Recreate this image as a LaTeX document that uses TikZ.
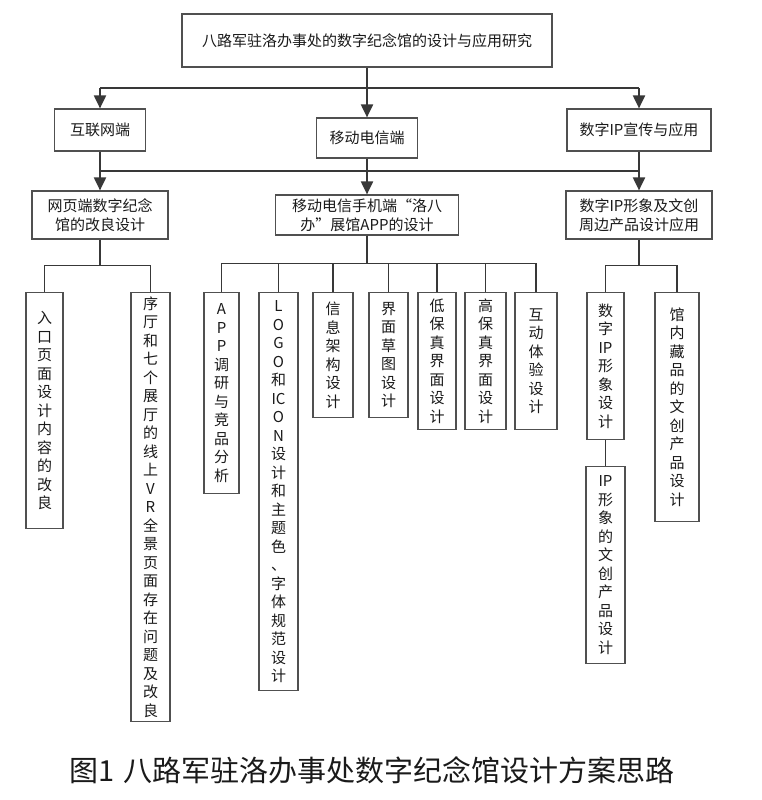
\documentclass[tikz,border=0pt]{standalone}
\usepackage{fontspec}
\setmainfont{Noto Sans CJK SC}
\usetikzlibrary{arrows.meta}
\definecolor{boxline}{HTML}{505050}
\definecolor{barline}{HTML}{383838}
\definecolor{inktext}{HTML}{1A1A1A}
\tikzset{%
  every box/.style={
    rectangle,
    draw=boxline,
    line width=1.2pt,
    inner sep=0pt,
    align=center,
    text=inktext,
    font=\fontsize{15}{19}\selectfont
  },
  column box/.style={
    every box,
    anchor=north,
    font=\fontsize{15}{18.5}\selectfont
  },
  link/.style={
    draw=barline,
    line width=2pt
  },
  thin link/.style={
    draw=barline,
    line width=1.4pt
  },
}

\begin{document}
\begin{tikzpicture}[x=1pt, y=-1pt, >={Triangle[length=13pt,width=12pt]}]

            \useasboundingbox[fill=white] (0,0) rectangle (761,800);

            % Title box
            \node [every box, minimum width=370pt, minimum height=53pt] (root) at (367,40.5)
              {八路军驻洛办事处的数字纪念馆的设计与应用研究};

            % First level
            \node [every box, minimum width=91pt, minimum height=42pt] (branch-1) at (100,130) {互联网端};
            \node [every box, minimum width=101pt, minimum height=40pt] (branch-2) at (367,138) {移动电信端};
            \node [every box, minimum width=144pt, minimum height=42pt] (branch-3) at (639,130) {数字IP宣传与应用};

            % Second level
            \node [every box, minimum width=136pt, minimum height=48pt] (design-1) at (100,215)
              {网页端数字纪念\\馆的改良设计};
            \node [every box, minimum width=183pt, minimum height=40pt] (design-2) at (367,215)
              {移动电信手机端“洛八\\办”展馆APP的设计};
            \node [every box, minimum width=146pt, minimum height=48pt] (design-3) at (639,215)
              {数字IP形象及文创\\周边产品设计应用};

            % Bar below the title
            \coordinate (bar-top) at (367,88);
            \draw [link] (branch-1.north |- bar-top) -- (branch-3.north |- bar-top);
            \draw [link, ->] (root) -- (branch-2);
            \foreach \b in {1,3}
              \draw [link, ->] (branch-\b.north |- bar-top) -- (branch-\b);

            % Bar between first and second level
            \coordinate (bar-mid) at (367,171);
            \draw [link] (branch-1.south |- bar-mid) -- (branch-3.south |- bar-mid);
            \foreach \b in {1,2,3}
              \draw [link, ->] (branch-\b) -- (design-\b);

            % Columns under the web design
            \node [column box, minimum width=37pt, minimum height=236pt] (web-1) at (44.5,292)
              {入\\口\\页\\面\\设\\计\\内\\容\\的\\改\\良};
            \node [column box, minimum width=39pt, minimum height=429pt] (web-2) at (150.5,292)
              {序\\厅\\和\\七\\个\\展\\厅\\的\\线\\上\\V\\R\\全\\景\\页\\面\\存\\在\\问\\题\\及\\改\\良};
            \foreach \m in {1,2}
              \draw [thin link] (design-1.south) -- ++(0,26) -| (web-\m.north);

            % Columns under the app design
            \foreach \m/\x/\w/\h/\t in {
                1/221.5/35/201/{A\\P\\P\\调\\研\\与\\竞\\品\\分\\析},
                2/278.5/39/398/{L\\O\\G\\O\\和\\IC\\O\\N\\设\\计\\和\\主\\题\\色\\、\\字\\体\\规\\范\\设\\计},
                3/333/40/125/{信\\息\\架\\构\\设\\计},
                4/388.5/39/125/{界\\面\\草\\图\\设\\计},
                5/437/38/137/{低\\保\\真\\界\\面\\设\\计},
                6/485.5/41/137/{高\\保\\真\\界\\面\\设\\计},
                7/536/42/137/{互\\动\\体\\验\\设\\计}}
              \node [column box, minimum width=\w, minimum height=\h] (app-\m) at (\x,292) {\t};
            \foreach \m in {1,...,7}
              \draw [thin link] (design-2.south) -- ++(0,28) -| (app-\m.north);

            % Columns under the IP design
            \node [column box, minimum width=37pt, minimum height=147pt] (ip-1) at (605.5,292)
              {数\\字\\IP\\形\\象\\设\\计};
            \node [column box, minimum width=44pt, minimum height=229pt] (ip-2) at (677,292)
              {馆\\内\\藏\\品\\的\\文\\创\\产\\品\\设\\计};
            \node [column box, minimum width=39pt, minimum height=197pt] (ip-3) at (605.5,466)
              {IP\\形\\象\\的\\文\\创\\产\\品\\设\\计};
            \foreach \m in {1,2}
              \draw [thin link] (design-3.south) -- ++(0,26) -| (ip-\m.north);
            \draw [thin link] (ip-1) -- (ip-3);

            % Caption
            \node [text=inktext, font=\fontsize{29}{32}\selectfont] (caption) at (372,770)
              {图1\hspace{8pt}八路军驻洛办事处数字纪念馆设计方案思路};

\end{tikzpicture}
\end{document}
